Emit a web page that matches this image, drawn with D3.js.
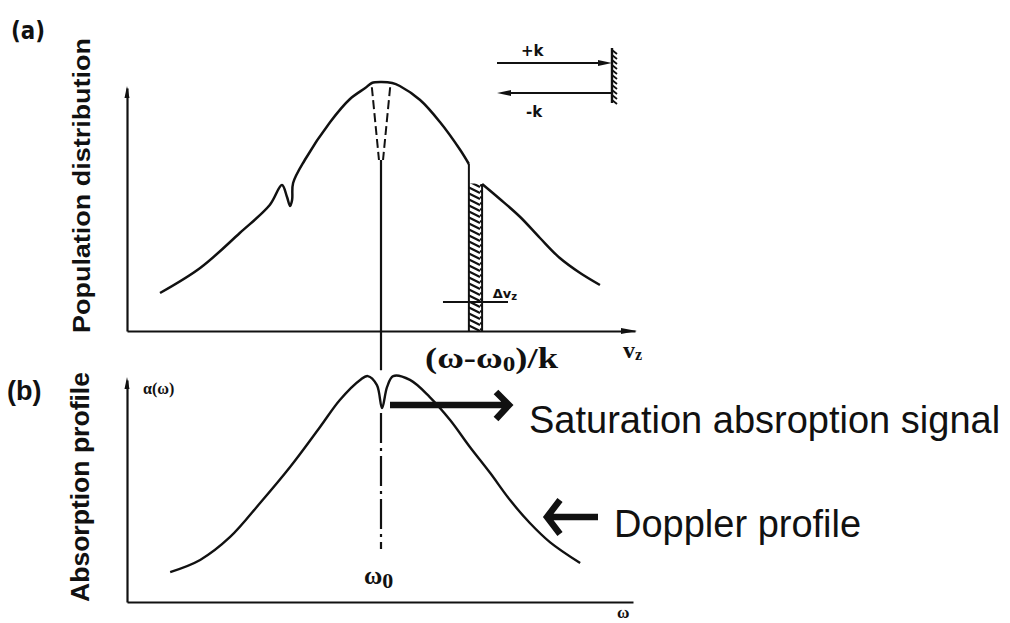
<!DOCTYPE html>
<html><head><meta charset="utf-8">
<script src="https://cdn.jsdelivr.net/npm/d3@7"></script>
<style>body{margin:0;background:#fff} svg{display:block}</style>
</head><body>
<svg id="chart" width="1010" height="623"></svg>
<script>
// (a) Doppler-broadened population vs. velocity, with burnt holes.
// Left branch runs up to the hatched (pumped) velocity class.
const popLeftV = [-4.35, -3.56, -2.78, -2.19, -1.95, -1.85, -1.79, -1.75, -1.73, -1.50, -1.00, -0.61, -0.31, -0.18, 0.00, 0.22, 0.37, 0.77, 1.16, 1.56, 1.73];
const popLeftN = [0.152, 0.252, 0.392, 0.504, 0.584, 0.536, 0.500, 0.524, 0.592, 0.684, 0.836, 0.928, 0.972, 0.992, 0.996, 0.992, 0.980, 0.924, 0.836, 0.724, 0.668];
const popRightV = [1.99, 2.34, 2.74, 3.13, 3.52, 3.92, 4.31];
const popRightN = [0.588, 0.528, 0.456, 0.372, 0.292, 0.232, 0.184];

// Central hole (both beams address v = 0): dashed walls
const lambHoleTopV = [-0.18, 0.18];
const lambHoleBottomV = [-0.04, 0.04];
const lambHoleBottomN = 0.684;

// Hatched velocity class Δv_z around (ω-ω0)/k
const holeEdgesV = [1.73, 1.99];
const holeEdgesTopN = [0.668, 0.588];

// (b) absorption coefficient vs. frequency with the Lamb dip at ω0
const absW = [-4.15, -3.56, -2.97, -2.38, -1.79, -1.20, -0.81, -0.41, -0.26, -0.08, 0.02, 0.12, 0.24, 0.57, 0.96, 1.36, 1.75, 2.15, 2.54, 2.93, 3.33, 3.92];
const absA = [0.133, 0.187, 0.289, 0.440, 0.600, 0.778, 0.898, 0.987, 1.004, 0.964, 0.862, 0.956, 1.004, 0.987, 0.911, 0.809, 0.689, 0.573, 0.453, 0.351, 0.265, 0.173];

const svg = d3.select('#chart');
const x = d3.scaleLinear().domain([-5, 5]).range([127, 635]);
const yA = d3.scaleLinear().domain([0, 1]).range([331, 81]);
const yB = d3.scaleLinear().domain([0, 1]).range([602, 377]);

const defs = svg.append('defs');
const hatch = defs.append('pattern').attr('id', 'hatch')
  .attr('patternUnits', 'userSpaceOnUse').attr('width', 16).attr('height', 6);
hatch.append('path').attr('d', 'M0,-1 L16,7 M0,5 L16,13 M0,-7 L16,1')
  .attr('stroke', '#111').attr('stroke-width', 2.2);

const ink = '#111';
const line = (ys) => d3.line().x(d => x(d[0])).y(d => ys(d[1])).curve(d3.curveCatmullRom.alpha(0.5));

// ---------- axes ----------
function axisArrowUp(xp, yTop) {
  svg.append('path').attr('d', `M${xp},${yTop} L${xp - 2.5},${yTop + 12} L${xp + 2.5},${yTop + 12} Z`).attr('fill', ink);
}
function axisArrowRight(xTip, yp) {
  svg.append('path').attr('d', `M${xTip},${yp} L${xTip - 16},${yp - 3} L${xTip - 16},${yp + 3} Z`).attr('fill', ink);
}
// panel (a)
svg.append('g').attr('transform', `translate(0,${yA(0)})`)
  .call(d3.axisBottom(x).ticks(0).tickSizeOuter(0))
  .call(g => g.select('.domain').attr('stroke', ink).attr('stroke-width', 2.2));
svg.append('g').attr('transform', `translate(${x(-5)},0)`)
  .call(d3.axisLeft(yA.copy().domain([0, 0.97]).range([331, 88])).ticks(0).tickSizeOuter(0))
  .call(g => g.select('.domain').attr('stroke', ink).attr('stroke-width', 2.2));
axisArrowUp(x(-5), 86);
axisArrowRight(x(5) + 2, yA(0));
// panel (b)
svg.append('g').attr('transform', `translate(0,${yB(0)})`)
  .call(d3.axisBottom(x.copy().range([127, 633])).ticks(0).tickSizeOuter(0))
  .call(g => g.select('.domain').attr('stroke', ink).attr('stroke-width', 2.2));
svg.append('g').attr('transform', `translate(${x(-5)},0)`)
  .call(d3.axisLeft(yB.copy().domain([0, 1]).range([602, 380])).ticks(0).tickSizeOuter(0))
  .call(g => g.select('.domain').attr('stroke', ink).attr('stroke-width', 2.2));
axisArrowUp(x(-5), 377);

// ---------- (a) population curve ----------
svg.append('path').datum(d3.zip(popLeftV, popLeftN)).attr('d', line(yA))
  .attr('fill', 'none').attr('stroke', ink).attr('stroke-width', 2.5);
svg.append('path').datum(d3.zip(popRightV, popRightN)).attr('d', line(yA))
  .attr('fill', 'none').attr('stroke', ink).attr('stroke-width', 2.5);

// central hole walls (dashed)
lambHoleTopV.forEach((v, i) => {
  svg.append('line')
    .attr('x1', x(v)).attr('y1', yA(0.975))
    .attr('x2', x(lambHoleBottomV[i])).attr('y2', yA(lambHoleBottomN))
    .attr('stroke', ink).attr('stroke-width', 2).attr('stroke-dasharray', '9,4');
});

// hatched velocity class
svg.append('path')
  .attr('d', `M${x(holeEdgesV[0])},${yA(0.59)} L${x(holeEdgesV[1])},${yA(0.59)} L${x(holeEdgesV[1])},${yA(0)} L${x(holeEdgesV[0])},${yA(0)} Z`)
  .attr('fill', 'url(#hatch)');
holeEdgesV.forEach((v, i) => {
  svg.append('line').attr('x1', x(v)).attr('x2', x(v))
    .attr('y1', yA(holeEdgesTopN[i])).attr('y2', yA(0))
    .attr('stroke', ink).attr('stroke-width', 2);
});
// Δv_z marker bar
svg.append('line').attr('x1', x(1.22)).attr('x2', x(2.5)).attr('y1', 302).attr('y2', 302)
  .attr('stroke', ink).attr('stroke-width', 2);
svg.append('text').attr('x', x(2.2)).attr('y', 298)
  .attr('font-family', 'DejaVu Sans').attr('font-weight', 'bold').attr('font-size', 13)
  .attr('fill', ink)
  .call(t => { t.append('tspan').text('Δv'); t.append('tspan').attr('font-size', 10).attr('dy', 2).text('z'); });

// vertical line at v = 0 / ω = ω0 through both panels
svg.append('line').attr('x1', x(0)).attr('x2', x(0))
  .attr('y1', yA(lambHoleBottomN)).attr('y2', yB(1.03))
  .attr('stroke', ink).attr('stroke-width', 2.2);
svg.append('line').attr('x1', x(0)).attr('x2', x(0))
  .attr('y1', yB(0.84)).attr('y2', 549)
  .attr('stroke', ink).attr('stroke-width', 2.2).attr('stroke-dasharray', '30,5,3,5');

// ---------- (b) absorption curve ----------
svg.append('path').datum(d3.zip(absW, absA)).attr('d', line(yB))
  .attr('fill', 'none').attr('stroke', ink).attr('stroke-width', 2.4);

// ---------- counter-propagating beams and mirror ----------
const mx = 612;
svg.append('line').attr('x1', 497).attr('x2', mx - 10).attr('y1', 63).attr('y2', 63)
  .attr('stroke', ink).attr('stroke-width', 2.2);
svg.append('path').attr('d', `M${mx},63 L${mx - 14},60 L${mx - 14},66 Z`).attr('fill', ink);
svg.append('line').attr('x1', 507).attr('x2', mx).attr('y1', 93).attr('y2', 93)
  .attr('stroke', ink).attr('stroke-width', 2.2);
svg.append('path').attr('d', `M497,93 L511,90 L511,96 Z`).attr('fill', ink);
svg.append('line').attr('x1', mx).attr('x2', mx).attr('y1', 48).attr('y2', 103)
  .attr('stroke', ink).attr('stroke-width', 2.4);
d3.range(50, 102, 5).forEach(yy => {
  svg.append('line').attr('x1', mx).attr('y1', yy).attr('x2', mx + 5).attr('y2', yy + 4)
    .attr('stroke', ink).attr('stroke-width', 1.8);
});
svg.append('text').attr('x', 521).attr('y', 56).text('+k')
  .attr('font-family', 'DejaVu Sans').attr('font-weight', 'bold').attr('font-size', 15).attr('fill', ink);
svg.append('text').attr('x', 526).attr('y', 117).text('-k')
  .attr('font-family', 'DejaVu Sans').attr('font-weight', 'bold').attr('font-size', 15).attr('fill', ink);

// ---------- labels ----------
svg.append('text').attr('x', 11).attr('y', 39).text('(a)')
  .attr('font-family', 'DejaVu Sans').attr('font-weight', 'bold').attr('font-size', 25)
  .attr('textLength', 34).attr('lengthAdjust', 'spacingAndGlyphs').attr('fill', ink);
svg.append('text').attr('x', 7).attr('y', 400).text('(b)')
  .attr('font-family', 'Liberation Sans').attr('font-weight', 'bold').attr('font-size', 27).attr('fill', ink);

svg.append('text').attr('transform', 'translate(90,333) rotate(-90)').text('Population distribution')
  .attr('font-family', 'Liberation Sans').attr('font-weight', 'bold').attr('font-size', 24)
  .attr('textLength', 295).attr('lengthAdjust', 'spacingAndGlyphs').attr('fill', ink);
svg.append('text').attr('transform', 'translate(89,602) rotate(-90)').text('Absorption profile')
  .attr('font-family', 'Liberation Sans').attr('font-weight', 'bold').attr('font-size', 25)
  .attr('textLength', 230).attr('lengthAdjust', 'spacingAndGlyphs').attr('fill', ink);

svg.append('text').attr('x', 143).attr('y', 394)
  .attr('font-family', 'Liberation Serif').attr('font-weight', 'bold').attr('font-size', 16).attr('fill', ink)
  .text('α(ω)');

svg.append('text').attr('x', 425).attr('y', 368)
  .attr('font-family', 'Liberation Serif').attr('font-weight', 'bold').attr('font-size', 29).attr('fill', ink)
  .attr('textLength', 133).attr('lengthAdjust', 'spacingAndGlyphs')
  .call(t => {
    t.append('tspan').text('(ω-ω');
    t.append('tspan').attr('font-size', 20).attr('dy', 3).text('0');
    t.append('tspan').attr('dy', -3).text(')/k');
  });
svg.append('text').attr('x', 623).attr('y', 358)
  .attr('font-family', 'Liberation Serif').attr('font-weight', 'bold').attr('font-size', 24).attr('fill', ink)
  .call(t => { t.append('tspan').text('v'); t.append('tspan').attr('font-size', 16).attr('dy', 2).text('z'); });

svg.append('text').attr('x', 364).attr('y', 584)
  .attr('font-family', 'Liberation Serif').attr('font-weight', 'bold').attr('font-size', 25).attr('fill', ink)
  .call(t => { t.append('tspan').text('ω'); t.append('tspan').attr('font-size', 22).attr('dy', 4).text('0'); });
svg.append('text').attr('x', 617).attr('y', 618).text('ω')
  .attr('font-family', 'Liberation Serif').attr('font-weight', 'bold').attr('font-size', 17).attr('fill', ink);

// ---------- call-outs ----------
svg.append('path').attr('d', 'M390,405 H507 M496,392 L509,405 L496,419')
  .attr('fill', 'none').attr('stroke', ink).attr('stroke-width', 6.5).attr('stroke-linejoin', 'miter');
svg.append('text').attr('x', 529).attr('y', 433).text('Saturation absroption signal')
  .attr('font-family', 'Liberation Sans').attr('font-size', 38).attr('fill', ink);

svg.append('path').attr('d', 'M598,517 H550 M560,500 L547,517 L560,534')
  .attr('fill', 'none').attr('stroke', ink).attr('stroke-width', 6.5).attr('stroke-linejoin', 'miter');
svg.append('text').attr('x', 614).attr('y', 537).text('Doppler profile')
  .attr('font-family', 'Liberation Sans').attr('font-size', 38).attr('fill', ink);
</script>
</body></html>
